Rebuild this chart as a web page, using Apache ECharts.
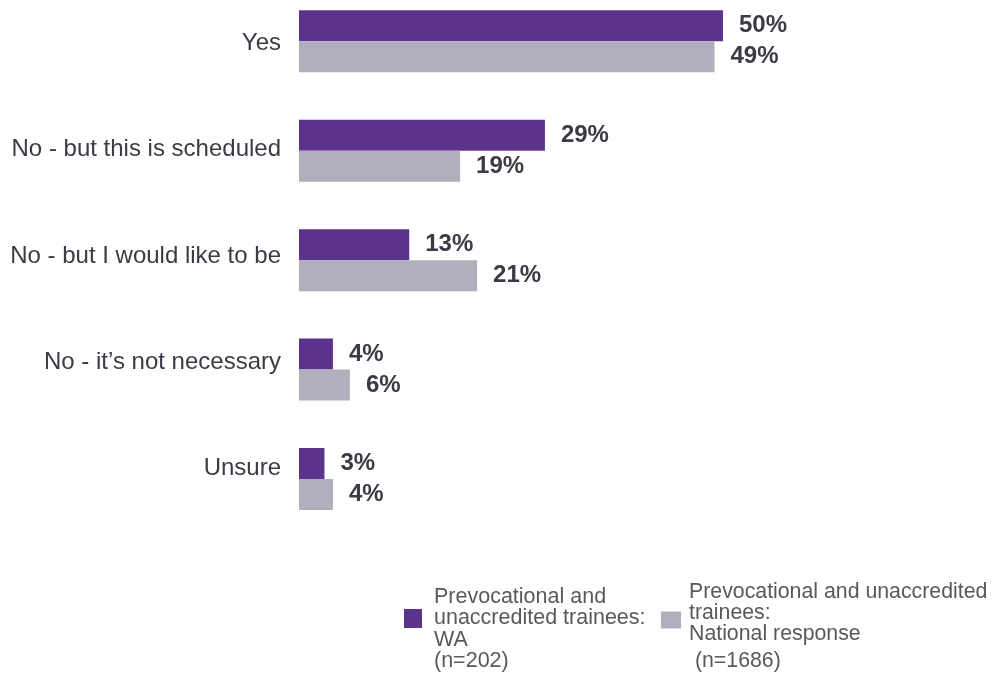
<!DOCTYPE html>
<html>
<head>
<meta charset="utf-8">
<script src="https://cdn.jsdelivr.net/npm/echarts@6/dist/echarts.min.js"></script>
<style>
  html, body { margin: 0; padding: 0; background: #fff; }
  #chart { width: 992px; height: 675px; }
</style>
</head>
<body>
<div id="chart"></div>
<script>
// answers, top to bottom
const categories = ["Yes", "No - but this is scheduled", "No - but I would like to be", "No - it\u2019s not necessary", "Unsure"]
// percentages
const waValues = [50, 29, 13, 4, 3]
const nationalValues = [49, 19, 21, 6, 4]
const waName = "Prevocational and\nunaccredited trainees:\nWA\n{n|(n=202)}"
const nationalName = "Prevocational and unaccredited\ntrainees:\nNational response\n{n| (n=1686)}"

const font = "'Liberation Sans', Arial, sans-serif"
const textDark = "#3b3b45"
const legendGrey = "#595959"

let myChart = echarts.init(document.getElementById("chart"))

let barLabel = {
    show: true,
    position: "right",
    distance: 16,
    formatter: "{c}%",
    color: textDark,
    fontFamily: font,
    fontWeight: "bold",
    fontSize: 24
}

let option = {
    animation: false,
    backgroundColor: "#fff",
    grid: [
        // bars
        { left: 299, right: 14.6, top: 41.25, height: 437.75, containLabel: false },
        // category names sit on a slightly tighter spacing than the bars
        { left: 299, right: 14.6, top: 43.5, height: 425, containLabel: false }
    ],
    legend: [
        {
            data: [waName],
            left: 404,
            top: 564.75,
            padding: 0,
            itemWidth: 18,
            itemHeight: 19,
            icon: "rect",
            textStyle: {
                color: legendGrey,
                fontFamily: font,
                fontSize: 21.5,
                lineHeight: 21.5,
                padding: [21.5, 0, 0, 7],
                rich: {
                    n: {
                        color: legendGrey,
                        fontFamily: font,
                        fontSize: 21.5,
                        lineHeight: 21.5
                    }
                }
            }
        },
        {
            data: [nationalName],
            left: 661,
            top: 563,
            padding: 0,
            itemWidth: 20,
            itemHeight: 17,
            icon: "rect",
            textStyle: {
                color: legendGrey,
                fontFamily: font,
                fontSize: 21.3,
                lineHeight: 21,
                padding: [19, 0, 0, 3],
                rich: {
                    n: {
                        color: legendGrey,
                        fontFamily: font,
                        fontSize: 21.3,
                        lineHeight: 32
                    }
                }
            }
        }
    ],
    xAxis: [
        { type: "value", gridIndex: 0, min: 0, max: 80, show: false },
        { type: "value", gridIndex: 1, min: 0, max: 80, show: false }
    ],
    yAxis: [
        {
            type: "category",
            gridIndex: 0,
            inverse: true,
            boundaryGap: false,
            data: categories,
            axisLine: { show: false },
            axisTick: { show: false },
            splitLine: { show: false },
            axisLabel: { show: false }
        },
        {
            type: "category",
            gridIndex: 1,
            inverse: true,
            boundaryGap: false,
            data: categories,
            axisLine: { show: false },
            axisTick: { show: false },
            splitLine: { show: false },
            axisLabel: {
                margin: 18,
                color: textDark,
                fontFamily: font,
                fontSize: 24
            }
        }
    ],
    series: [
        {
            name: waName,
            type: "bar",
            xAxisIndex: 0,
            yAxisIndex: 0,
            data: waValues,
            barWidth: 31,
            barGap: "0%",
            clip: false,
            itemStyle: { color: "#5b338d" },
            label: barLabel
        },
        {
            name: nationalName,
            type: "bar",
            xAxisIndex: 0,
            yAxisIndex: 0,
            data: nationalValues,
            barWidth: 31,
            barGap: "0%",
            clip: false,
            itemStyle: { color: "#b0afbb" },
            label: barLabel
        }
    ]
}
myChart.setOption(option)
</script>
</body>
</html>
